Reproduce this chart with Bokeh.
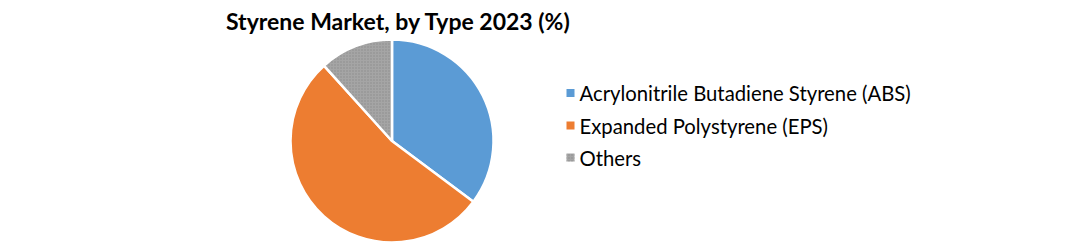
import numpy as np
from bokeh.plotting import figure
from bokeh.models import Range1d
from bokeh.core.properties import value
from bokeh.embed import file_html
from bokeh.resources import INLINE

# ---- data ----
categories = ["Acrylonitrile Butadiene Styrene (ABS)", "Expanded Polystyrene (EPS)", "Others"]
shares = [35.2, 53.1, 11.7]
colors = ["#5b9bd5", "#ed7d31", "#a5a5a5"]
title = "Styrene Market, by Type 2023 (%)"

W, H = 1075, 244
p = figure(width=W, height=H, output_backend="svg", toolbar_location=None,
           x_range=Range1d(0, W), y_range=Range1d(0, H), min_border=0)
p.axis.visible = False
p.grid.visible = False
p.outline_line_color = None
p.background_fill_color = "white"
p.border_fill_color = "white"

def Y(py):
    return H - py

# pie
cx, cy, r = 391.5, Y(140.5), 101.5
frac = np.array(shares) / np.sum(shares)
cum = np.concatenate([[0], np.cumsum(frac)])
starts = np.pi / 2 - 2 * np.pi * cum[:-1]
ends = np.pi / 2 - 2 * np.pi * cum[1:]
for i in range(len(categories)):
    kw = {}
    if categories[i] == "Others":
        kw = dict(hatch_pattern=".", hatch_scale=3, hatch_color="#8c8c8c", hatch_weight=1)
    p.wedge(x=cx, y=cy, radius=r, start_angle=starts[i], end_angle=ends[i], direction="clock",
            fill_color=colors[i], line_color="white", line_width=2.5, **kw)

# title
p.text(x=[398], y=[Y(20)], text=[title], text_font=value("Lato"), text_font_style="bold",
       text_font_size="23px", text_align="center", text_baseline="middle", text_color="black")

# legend
rows = [92.5, 125, 157]
for i, cat in enumerate(categories):
    kw = {}
    if cat == "Others":
        kw = dict(hatch_pattern=".", hatch_scale=3, hatch_color="#8c8c8c", hatch_weight=1)
    p.rect(x=[570], y=[Y(rows[i])], width=8, height=8, fill_color=colors[i], line_color=None, **kw)
    p.text(x=[579], y=[Y(rows[i])], text=[cat], text_font=value("Lato"), text_font_size="20.3px",
           text_align="left", text_baseline="middle", text_color="black")

open("out.html", "w").write(file_html(p, INLINE))
